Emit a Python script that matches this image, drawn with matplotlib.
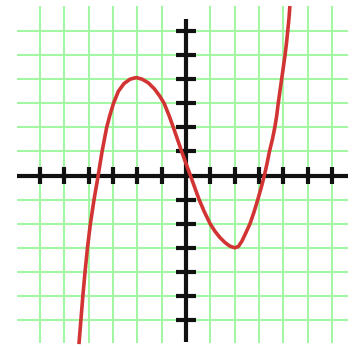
import numpy as np
import matplotlib.pyplot as plt

# curve points (x, y)
curve_x = [-4.40, -4.32, -4.24, -4.15, -4.05, -3.93, -3.78, -3.61, -3.45, -3.26,
           -3.13, -2.98, -2.78, -2.55, -2.30, -2.05, -1.80, -1.55, -1.30, -1.08,
           -0.90, -0.70, -0.52, -0.35, -0.18, 0.00, 0.18, 0.36, 0.54, 0.75,
           0.99, 1.20, 1.40, 1.60, 1.80, 2.00, 2.15, 2.30, 2.45, 2.63,
           2.80, 2.95, 3.09, 3.22, 3.33, 3.43, 3.55, 3.65, 3.73, 3.79,
           3.86, 3.93, 4.00, 4.07, 4.13, 4.18, 4.23, 4.27]
curve_y = [-7.0, -6.0, -5.0, -4.0, -3.0, -2.0, -1.0, 0.0, 1.0, 2.0,
           2.5, 3.0, 3.5, 3.82, 4.0, 4.07, 4.0, 3.85, 3.6, 3.3,
           3.0, 2.5, 2.0, 1.5, 1.0, 0.5, 0.0, -0.5, -1.0, -1.5,
           -2.0, -2.33, -2.58, -2.78, -2.93, -3.0, -2.95, -2.72, -2.4, -2.0,
           -1.5, -1.0, -0.5, 0.0, 0.5, 1.0, 1.5, 2.0, 2.5, 3.0,
           3.5, 4.0, 4.5, 5.0, 5.5, 6.0, 6.5, 7.04]

# tick / grid positions
ticks = [-6, -5, -4, -3, -2, -1, 1, 2, 3, 4, 5, 6]
grid_pos = [-6, -5, -4, -3, -2, -1, 1, 2, 3, 4, 5, 6]

fig = plt.figure(figsize=(3.59, 3.47), dpi=100)
ax = fig.add_axes([0, 0, 1, 1])
ax.set_xlim(-7.645, 7.11)
ax.set_ylim(-7.12, 7.29)
ax.axis('off')

green = '#a3f7a3'
# grid
ax.vlines(grid_pos, -6.95, 7.04, color=green, lw=1.5, zorder=1)
ax.hlines(grid_pos, -6.95, 6.66, color=green, lw=1.5, zorder=1)

# axes
ax.plot([-6.95, 6.66], [0, 0], color='#111111', lw=3, zorder=2, solid_capstyle='butt')
ax.plot([0, 0], [-6.9, 6.5], color='#111111', lw=3, zorder=2, solid_capstyle='butt')

# tick marks
ax.vlines(ticks, -0.36, 0.36, color='#111111', lw=3, zorder=2)
ax.hlines(ticks, -0.4, 0.4, color='#111111', lw=3, zorder=2)

# curve
ax.plot(curve_x, curve_y, color='#d23434', lw=2.6, zorder=3,
        solid_joinstyle='round', solid_capstyle='butt')

plt.savefig('out.png', dpi=100)
